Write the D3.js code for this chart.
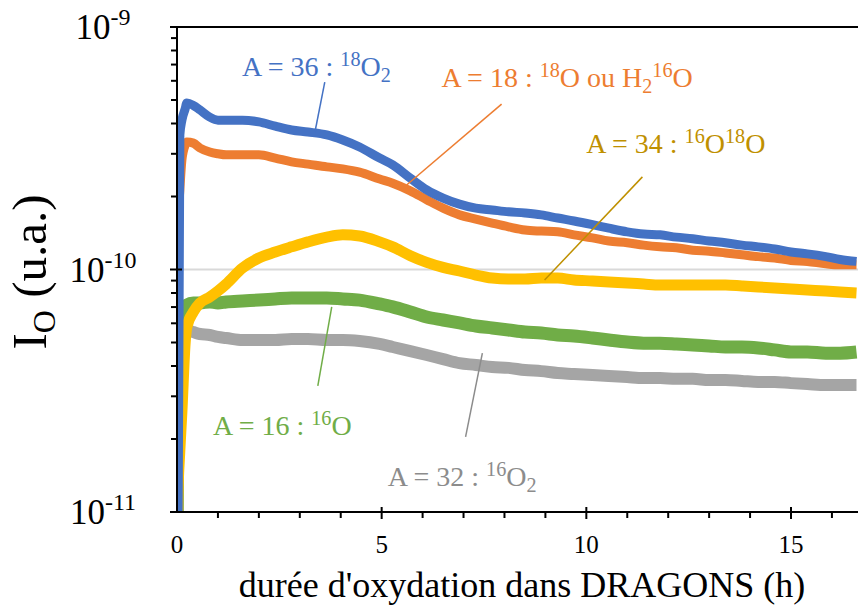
<!DOCTYPE html>
<html><head><meta charset="utf-8">
<script src="https://cdn.jsdelivr.net/npm/d3@7"></script>
<style>body{margin:0;background:#fff}svg{display:block}</style>
</head><body>
<svg id="c" width="858" height="605"></svg>
<script>
// ---------- DATA ----------
const hours = [0, 0.02, 0.07, 0.12, 0.2, 0.24, 0.4, 0.56, 0.8, 1.0, 1.2, 1.6, 2.0, 2.4, 2.8, 3.2, 3.66, 4.05, 4.46, 4.95, 5.27, 5.7, 6.1, 6.5, 6.9, 7.3, 7.7, 8.1, 8.5, 8.9, 9.3, 9.7, 10.15, 10.55, 11.0, 11.4, 11.8, 12.2, 12.6, 13.0, 13.4, 13.8, 14.2, 14.6, 15.0, 15.4, 15.85, 16.2, 16.6];

const a36 = [5e-12, 5e-12, 3.59e-10, 4.13e-10, 4.60e-10, 4.86e-10, 4.75e-10, 4.55e-10, 4.25e-10, 4.13e-10, 4.13e-10, 4.13e-10, 4.06e-10, 3.90e-10, 3.76e-10, 3.69e-10, 3.59e-10, 3.42e-10, 3.20e-10, 2.88e-10, 2.70e-10, 2.38e-10, 2.13e-10, 1.97e-10, 1.86e-10, 1.79e-10, 1.76e-10, 1.73e-10, 1.71e-10, 1.68e-10, 1.63e-10, 1.585e-10, 1.53e-10, 1.48e-10, 1.43e-10, 1.40e-10, 1.39e-10, 1.36e-10, 1.34e-10, 1.31e-10, 1.29e-10, 1.26e-10, 1.24e-10, 1.215e-10, 1.18e-10, 1.16e-10, 1.13e-10, 1.10e-10, 1.08e-10];

const a18 = [5e-12, 1.50e-10, 2.13e-10, 2.83e-10, 3.26e-10, 3.355e-10, 3.32e-10, 3.17e-10, 3.05e-10, 3.00e-10, 2.97e-10, 2.97e-10, 2.97e-10, 2.88e-10, 2.78e-10, 2.72e-10, 2.65e-10, 2.60e-10, 2.52e-10, 2.36e-10, 2.27e-10, 2.11e-10, 1.94e-10, 1.79e-10, 1.68e-10, 1.615e-10, 1.555e-10, 1.50e-10, 1.455e-10, 1.44e-10, 1.43e-10, 1.39e-10, 1.35e-10, 1.31e-10, 1.29e-10, 1.26e-10, 1.24e-10, 1.23e-10, 1.20e-10, 1.19e-10, 1.17e-10, 1.15e-10, 1.13e-10, 1.115e-10, 1.09e-10, 1.08e-10, 1.055e-10, 1.045e-10, 1.045e-10];

const a34 = [5e-12, 1.12e-11, 1.8e-11, 2.6e-11, 5.0e-11, 5.79e-11, 6.68e-11, 7.28e-11, 7.70e-11, 8.15e-11, 8.71e-11, 1.014e-10, 1.115e-10, 1.18e-10, 1.24e-10, 1.30e-10, 1.36e-10, 1.39e-10, 1.375e-10, 1.30e-10, 1.24e-10, 1.14e-10, 1.07e-10, 1.02e-10, 9.86e-11, 9.49e-11, 9.22e-11, 9.13e-11, 9.13e-11, 9.22e-11, 9.22e-11, 9.05e-11, 8.97e-11, 8.88e-11, 8.80e-11, 8.71e-11, 8.63e-11, 8.63e-11, 8.63e-11, 8.63e-11, 8.63e-11, 8.55e-11, 8.47e-11, 8.39e-11, 8.31e-11, 8.23e-11, 8.15e-11, 8.07e-11, 8.00e-11];

const a16 = [5e-12, 3.0e-11, 6.19e-11, 6.68e-11, 6.94e-11, 7.14e-11, 7.28e-11, 7.28e-11, 7.35e-11, 7.28e-11, 7.35e-11, 7.42e-11, 7.48e-11, 7.56e-11, 7.63e-11, 7.63e-11, 7.63e-11, 7.56e-11, 7.48e-11, 7.21e-11, 7.01e-11, 6.68e-11, 6.37e-11, 6.19e-11, 6.02e-11, 5.85e-11, 5.74e-11, 5.63e-11, 5.52e-11, 5.47e-11, 5.37e-11, 5.32e-11, 5.22e-11, 5.12e-11, 5.02e-11, 4.97e-11, 4.97e-11, 4.93e-11, 4.88e-11, 4.84e-11, 4.79e-11, 4.79e-11, 4.75e-11, 4.66e-11, 4.57e-11, 4.57e-11, 4.52e-11, 4.52e-11, 4.57e-11];

const a32 = [5e-12, 5.63e-11, 5.63e-11, 5.63e-11, 5.63e-11, 5.63e-11, 5.52e-11, 5.42e-11, 5.37e-11, 5.27e-11, 5.22e-11, 5.12e-11, 5.12e-11, 5.12e-11, 5.17e-11, 5.17e-11, 5.12e-11, 5.12e-11, 5.07e-11, 4.93e-11, 4.79e-11, 4.61e-11, 4.44e-11, 4.27e-11, 4.11e-11, 4.04e-11, 3.96e-11, 3.93e-11, 3.85e-11, 3.81e-11, 3.74e-11, 3.71e-11, 3.67e-11, 3.64e-11, 3.60e-11, 3.57e-11, 3.57e-11, 3.54e-11, 3.54e-11, 3.50e-11, 3.50e-11, 3.47e-11, 3.44e-11, 3.44e-11, 3.40e-11, 3.37e-11, 3.34e-11, 3.34e-11, 3.34e-11];

const xTicks = [0, 5, 10, 15];
const yTickExponents = [-9, -10, -11];
const xTitle = "durée d'oxydation dans DRAGONS (h)";

// label parts: [text, 'sup'|'sub'|'']
const labelTexts = [
  [["A = 16 : ", ""], ["16", "sup"], ["O", ""]],
  [["A = 32 : ", ""], ["16", "sup"], ["O", ""], ["2", "sub"]],
  [["A = 18 : ", ""], ["18", "sup"], ["O ou H", ""], ["2", "sub"], ["16", "sup"], ["O", ""]],
  [["A = 34 : ", ""], ["16", "sup"], ["O", ""], ["18", "sup"], ["O", ""]],
  [["A = 36 : ", ""], ["18", "sup"], ["O", ""], ["2", "sub"]]
];
// label anchor (hours, value) and leader line endpoints
const labelAt = [[0.88, 2.08e-11], [5.15, 1.28e-11], [6.46, 5.66e-10], [10.0, 3.02e-10], [1.59, 6.28e-10]];
const leaderFrom = [[3.78, 7.01e-11], [7.46, 4.52e-11], [7.93, 4.81e-10], [11.37, 2.41e-10], [3.61, 5.93e-10]];
const leaderTo = [[3.44, 3.31e-11], [7.05, 2.04e-11], [5.61, 2.23e-10], [8.98, 9.05e-11], [3.37, 3.69e-10]];

const seriesValues = [a16, a32, a18, a34, a36];
const seriesColors = ["#70AD47", "#A5A5A5", "#ED7D31", "#FFC000", "#4472C4"];
const seriesWidths = [13, 12, 9, 11, 9];
const labelColors = ["#70AD47", "#8C8C8C", "#ED7D31", "#BF9000", "#4472C4"];

// ---------- CHART ----------
const svg = d3.select("#c");
const FONT = "'Liberation Serif','Times New Roman',serif";
const L = 177, R = 858, T = 27, B = 512;

const x = d3.scaleLinear().domain([0, 15]).range([L, 791]);
const y = d3.scaleLog().domain([1e-11, 1e-9]).range([B, T]);

svg.append("defs").append("clipPath").attr("id", "clip")
  .append("rect").attr("x", L).attr("y", T).attr("width", R - L).attr("height", B - T);

// gridline at 1e-10
svg.append("line").attr("x1", L).attr("x2", R).attr("y1", y(1e-10)).attr("y2", y(1e-10))
  .attr("stroke", "#D9D9D9").attr("stroke-width", 2);

// series
const line = d3.line().x((d, i) => x(hours[i])).y(d => y(d)).curve(d3.curveMonotoneX);
const g = svg.append("g").attr("clip-path", "url(#clip)");
seriesValues.forEach((vals, k) => {
  g.append("path").attr("d", line(vals)).attr("fill", "none")
    .attr("stroke", seriesColors[k]).attr("stroke-width", seriesWidths[k])
    .attr("stroke-linejoin", "round").attr("stroke-linecap", "butt");
});

// axes
const ax = svg.append("g").attr("stroke", "#000").attr("stroke-width", 2);
ax.append("line").attr("x1", L).attr("x2", R).attr("y1", T).attr("y2", T);
ax.append("line").attr("x1", L).attr("x2", R).attr("y1", B).attr("y2", B);
ax.append("line").attr("x1", L).attr("x2", L).attr("y1", T).attr("y2", B + 1);

// y ticks (minor on left, major crossing)
const yMinor = y.ticks().filter(v => Math.abs(Math.log10(v) - Math.round(Math.log10(v))) > 1e-6);
yMinor.forEach(v => ax.append("line").attr("x1", L - 6).attr("x2", L).attr("y1", y(v)).attr("y2", y(v)));
yTickExponents.forEach(e => ax.append("line").attr("x1", L - 7).attr("x2", L + 5).attr("y1", y(Math.pow(10, e))).attr("y2", y(Math.pow(10, e))));

// x ticks
const xMinor = d3.range(1, 17).filter(h => h % 5 !== 0);
xMinor.forEach(h => ax.append("line").attr("x1", x(h)).attr("x2", x(h)).attr("y1", B).attr("y2", B + 6));
xTicks.filter(h => h > 0).forEach(h => ax.append("line").attr("x1", x(h)).attr("x2", x(h)).attr("y1", B - 5).attr("y2", B + 7));

// x tick labels
xTicks.forEach(h => svg.append("text").attr("x", x(h)).attr("y", B + 41)
  .attr("text-anchor", "middle").attr("font-family", FONT).attr("font-size", 25).attr("fill", "#000").text(h));

// y tick labels
yTickExponents.forEach(e => {
  const t = svg.append("text").attr("x", 103).attr("y", y(Math.pow(10, e)) + 12)
    .attr("text-anchor", "middle").attr("font-family", FONT).attr("font-size", 35).attr("fill", "#000");
  t.append("tspan").text("10");
  t.append("tspan").attr("font-size", 24).attr("dy", -14).text(String(e));
});

// axis titles
svg.append("text").attr("x", 522).attr("y", 597).attr("text-anchor", "middle")
  .attr("font-family", FONT).attr("font-size", 36).attr("fill", "#000").text(xTitle);

const yt = svg.append("text").attr("transform", "translate(46,272) rotate(-90)")
  .attr("text-anchor", "middle").attr("font-family", FONT).attr("font-size", 49).attr("fill", "#000");
yt.append("tspan").text("I");
yt.append("tspan").attr("font-size", 32).attr("dy", 9).text("O");
yt.append("tspan").attr("dy", -9).text(" (u.a.)");

// annotations
function rich(sel, parts, fs) {
  let cur = 0;
  parts.forEach(([txt, kind]) => {
    const target = kind === "sup" ? -0.36 * fs : kind === "sub" ? 0.2 * fs : 0;
    sel.append("tspan").attr("dy", target - cur)
      .attr("font-size", kind ? fs * 0.72 : fs).text(txt);
    cur = target;
  });
}
labelTexts.forEach((parts, k) => {
  svg.append("line")
    .attr("x1", x(leaderFrom[k][0])).attr("y1", y(leaderFrom[k][1]))
    .attr("x2", x(leaderTo[k][0])).attr("y2", y(leaderTo[k][1]))
    .attr("stroke", labelColors[k]).attr("stroke-width", 1.5);
  const t = svg.append("text").attr("x", x(labelAt[k][0])).attr("y", y(labelAt[k][1]))
    .attr("font-family", FONT).attr("fill", labelColors[k]).attr("xml:space", "preserve");
  rich(t, parts, 28);
});
</script>
</body></html>
